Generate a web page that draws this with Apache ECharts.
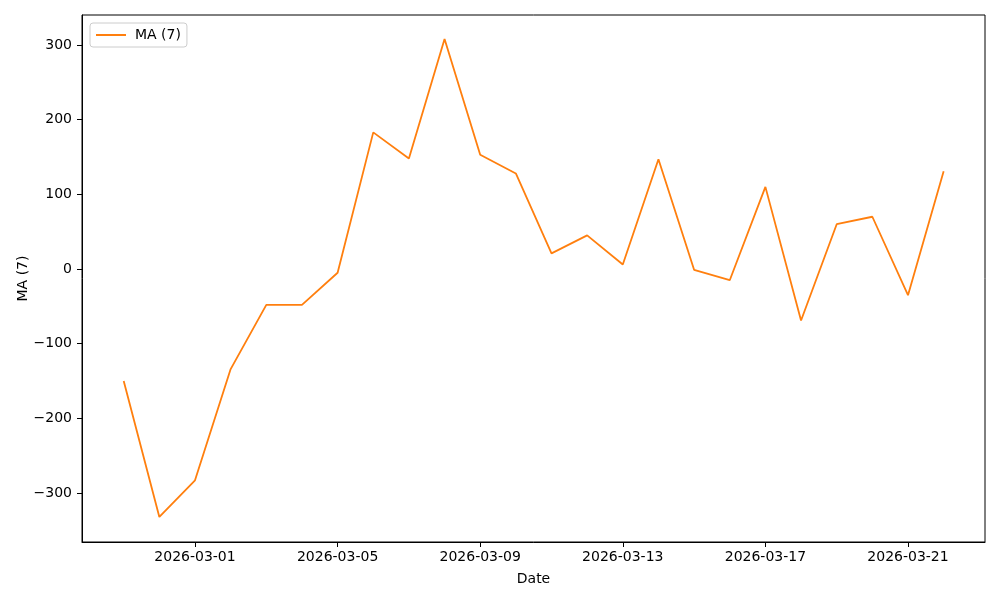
<!DOCTYPE html>
<html><head><meta charset="utf-8">
<script src="https://cdn.jsdelivr.net/npm/echarts@6/dist/echarts.min.js"></script>
<style>html,body{margin:0;padding:0;background:#fff}#c{width:1000px;height:600px}</style>
</head><body><div id="c"></div>
<script>
const dates = ['2026-02-27','2026-02-28','2026-03-01','2026-03-02','2026-03-03','2026-03-04','2026-03-05','2026-03-06','2026-03-07','2026-03-08','2026-03-09','2026-03-10','2026-03-11','2026-03-12','2026-03-13','2026-03-14','2026-03-15','2026-03-16','2026-03-17','2026-03-18','2026-03-19','2026-03-20','2026-03-21','2026-03-22'];
const maValues = [-150,-332,-283,-134,-48,-48,-5,183,148,308,153,128,21,45,6,147,-1,-15,110,-69,60,70,-35,131];
const xTickDates = ['2026-03-01','2026-03-05','2026-03-09','2026-03-13','2026-03-17','2026-03-21'];
const yTicks = [-300,-200,-100,0,100,200,300];

const DAY = 86400000;
const base = Date.UTC(2026,2,1);
const toDay = s => (Date.parse(s + 'T00:00:00Z') - base) / DAY;
const fromDay = d => { const t = new Date(base + Math.round(d) * DAY); return t.toISOString().slice(0,10); };

const font = 'DejaVu Sans';
const chart = echarts.init(document.getElementById('c'), null, {renderer:'canvas'});
chart.setOption({
  animation: false,
  textStyle: {fontFamily: font},
  grid: {left: 82, right: 15, top: 15, bottom: 58, show: true, borderColor: '#000', borderWidth: 1, containLabel: false},
  legend: {
    left: 90, top: 23, orient: 'vertical',
    data: [{name: 'MA (7)', icon: 'rect'}],
    itemWidth: 30, itemHeight: 2, itemGap: 5,
    padding: [5, 6, 5, 6],
    borderColor: '#ccc', borderWidth: 1, borderRadius: 3,
    backgroundColor: 'rgba(255,255,255,0.8)',
    textStyle: {fontFamily: font, fontSize: 14, color: '#000', padding: [0, 0, 0, 4]}
  },
  xAxis: {
    type: 'value', min: -3.17, max: 22.16,
    name: 'Date', nameLocation: 'middle', nameGap: 30, nameMoveOverlap: false,
    nameTextStyle: {fontFamily: font, fontSize: 14, color: '#000'},
    splitLine: {show: false},
    axisLine: {show: true, onZero: false, lineStyle: {color: '#000', width: 1}},
    axisTick: {show: true, length: 5, lineStyle: {color: '#000'}, customValues: xTickDates.map(toDay)},
    axisLabel: {fontFamily: font, fontSize: 14, color: '#000', margin: 8, customValues: xTickDates.map(toDay), formatter: v => fromDay(v)}
  },
  yAxis: {
    type: 'value', min: -365.6, max: 340.2,
    name: 'MA (7)', nameLocation: 'middle', nameGap: 52, nameMoveOverlap: false,
    nameTextStyle: {fontFamily: font, fontSize: 14, color: '#000'},
    splitLine: {show: false},
    axisLine: {show: true, onZero: false, lineStyle: {color: '#000', width: 1}},
    axisTick: {show: true, length: 5, lineStyle: {color: '#000'}, customValues: yTicks},
    axisLabel: {fontFamily: font, fontSize: 14, color: '#000', margin: 10, customValues: yTicks, formatter: v => v < 0 ? '\u2212' + Math.abs(v) : String(v)}
  },
  series: [{
    name: 'MA (7)', type: 'line', symbol: 'none',
    itemStyle: {color: '#ff7f0e'},
    lineStyle: {color: '#ff7f0e', width: 1.8},
    data: dates.map((d, i) => [toDay(d), maValues[i]])
  }]
});
</script></body></html>
